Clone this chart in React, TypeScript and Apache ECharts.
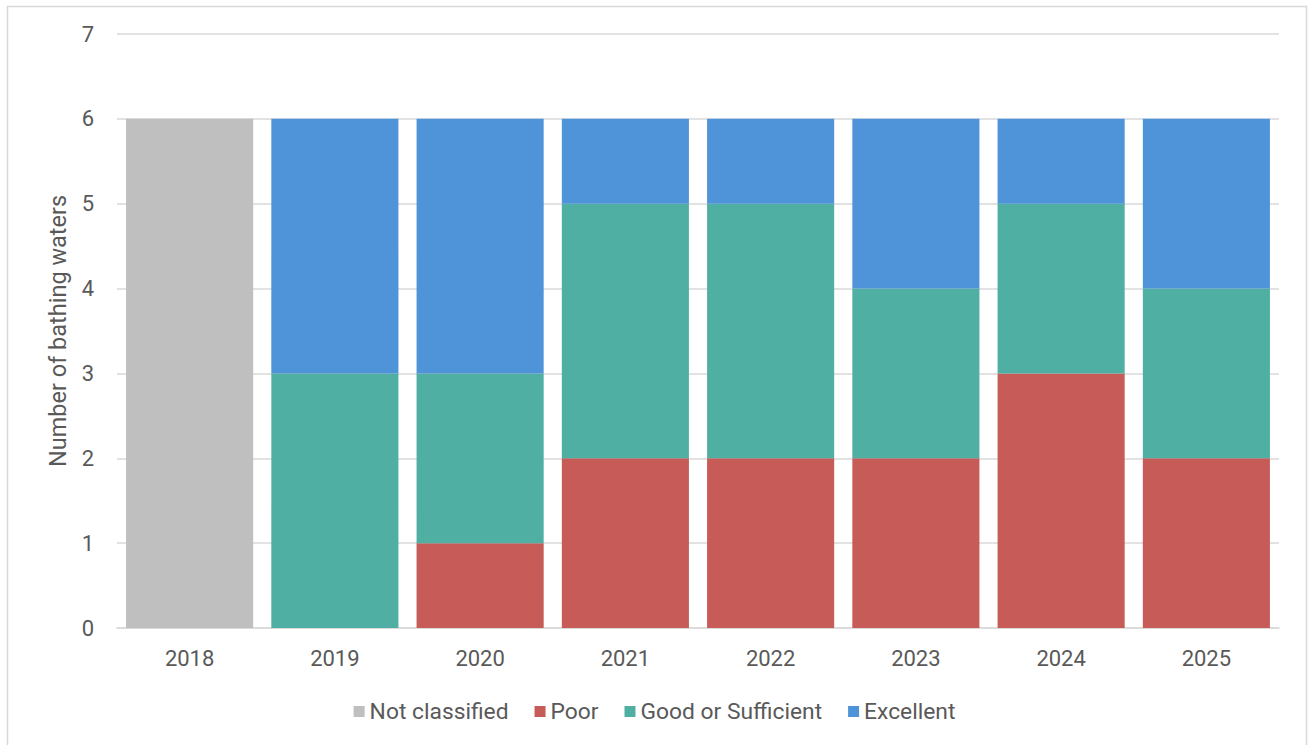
import React, { useEffect, useRef } from "react";
import * as echarts from "echarts";

const categories = ["2018", "2019", "2020", "2021", "2022", "2023", "2024", "2025"];
const notClassified = [6, 0, 0, 0, 0, 0, 0, 0];
const poor = [0, 0, 1, 2, 2, 2, 3, 2];
const goodOrSufficient = [0, 3, 2, 3, 3, 2, 2, 2];
const excellent = [0, 3, 3, 1, 1, 2, 1, 2];

const FONT = "Roboto";
const TEXT = "#595959";

export default function App() {
  const ref = useRef<HTMLDivElement>(null);
  useEffect(() => {
    if (!ref.current) return;
    const chart = echarts.init(ref.current, undefined, { renderer: "svg" });
    const mk = (name: string, data: number[], color: string) => ({
      name,
      type: "bar",
      stack: "total",
      data: data.map((v) => (v === 0 ? null : v)),
      barCategoryGap: "12.5%",
      itemStyle: { color },
      emphasis: { disabled: true },
    });
    chart.setOption({
      animation: false,
      backgroundColor: "#ffffff",
      textStyle: { fontFamily: FONT },
      graphic: [
        {
          type: "rect",
          shape: { x: 7.5, y: 6.5, width: 1299, height: 745 },
          style: { fill: "none", stroke: "#d9d9d9", lineWidth: 1.5 },
          silent: true,
        },
      ],
      grid: { left: 117, right: 30, top: 34, bottom: 117, containLabel: false },
      legend: {
        bottom: 17,
        left: "center",
        itemWidth: 11,
        itemHeight: 11,
        itemGap: 26,
        icon: "rect",
        textStyle: { fontFamily: FONT, fontSize: 22.8, color: TEXT },
        data: ["Not classified", "Poor", "Good or Sufficient", "Excellent"],
      },
      xAxis: {
        type: "category",
        data: categories,
        axisLine: { lineStyle: { color: "#d9d9d9", width: 1.5 } },
        axisTick: { show: false },
        axisLabel: { fontFamily: FONT, fontSize: 22, color: TEXT, margin: 19 },
      },
      yAxis: {
        type: "value",
        min: 0,
        max: 7,
        interval: 1,
        name: "Number of bathing waters",
        nameLocation: "middle",
        nameGap: 47,
        nameTextStyle: { fontFamily: FONT, fontSize: 23.5, color: TEXT },
        axisLine: { show: false },
        axisTick: { show: false },
        axisLabel: { fontFamily: FONT, fontSize: 22, color: TEXT, margin: 23 },
        splitLine: { lineStyle: { color: "#d9d9d9", width: 1.5 } },
      },
      series: [
        mk("Not classified", notClassified, "#bfbfbf"),
        mk("Poor", poor, "#c65b58"),
        mk("Good or Sufficient", goodOrSufficient, "#4fafa2"),
        mk("Excellent", excellent, "#4f94d8"),
      ],
    });
    return () => chart.dispose();
  }, []);
  return (
    <div
      ref={ref}
      style={{ position: "fixed", left: 0, top: 0, width: 1309, height: 745 }}
    />
  );
}
